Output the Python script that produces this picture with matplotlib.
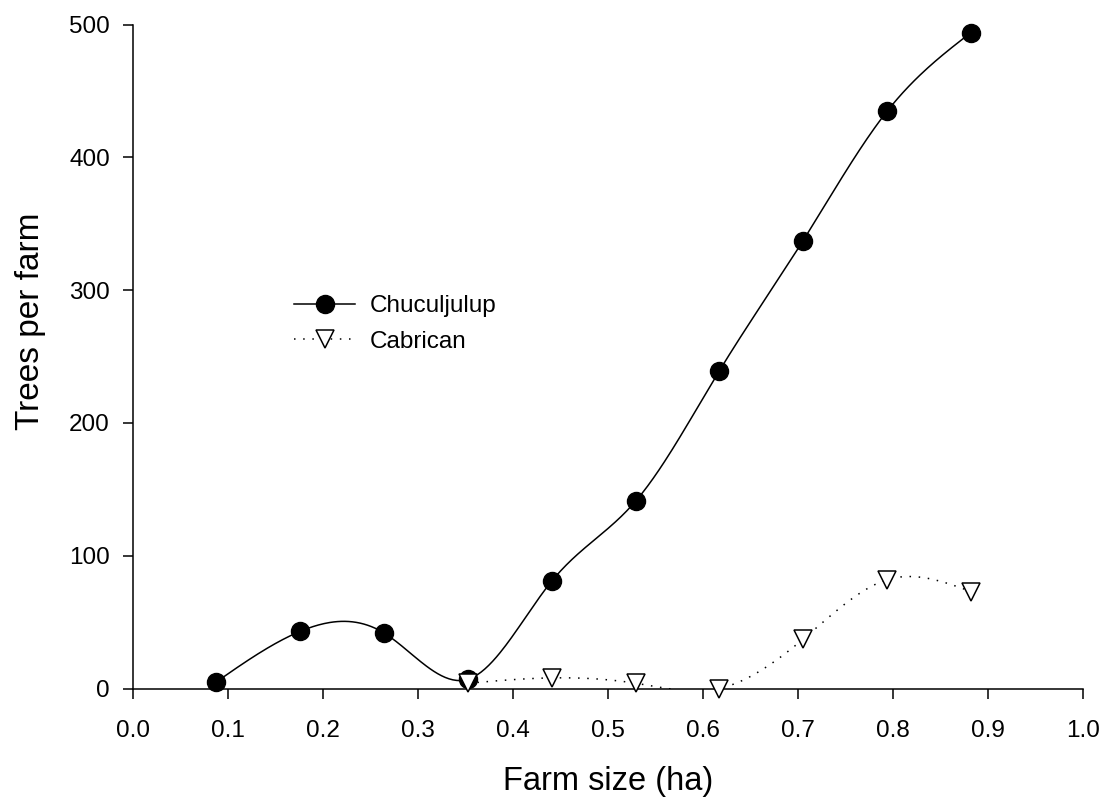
import numpy as np
import matplotlib
matplotlib.use('Agg')
import matplotlib.pyplot as plt
from matplotlib.lines import Line2D

plt.rcParams['font.family'] = ['Liberation Sans', 'DejaVu Sans']

# farm size classes (ha) and mean trees per farm
farm_size = [0.088, 0.176, 0.264, 0.353, 0.441, 0.529, 0.617, 0.705, 0.794, 0.882]
chuculjulup = [5, 43, 42, 7, 81, 141, 239, 337, 435, 494]

cabrican_size = [0.353, 0.441, 0.529, 0.617, 0.705, 0.794, 0.882]
cabrican = [4, 8, 4, 0, 37, 82, 73]

x_ticks = [0.0, 0.1, 0.2, 0.3, 0.4, 0.5, 0.6, 0.7, 0.8, 0.9, 1.0]
y_ticks = [0, 100, 200, 300, 400, 500]


def natural_spline(x, y, n=400):
    """Smooth curve through the points with a natural cubic spline."""
    x = np.asarray(x, float)
    y = np.asarray(y, float)
    k = len(x)
    h = np.diff(x)
    A = np.zeros((k, k))
    b = np.zeros(k)
    A[0, 0] = A[-1, -1] = 1
    for i in range(1, k - 1):
        A[i, i - 1] = h[i - 1]
        A[i, i] = 2 * (h[i - 1] + h[i])
        A[i, i + 1] = h[i]
        b[i] = 6 * ((y[i + 1] - y[i]) / h[i] - (y[i] - y[i - 1]) / h[i - 1])
    m = np.linalg.solve(A, b)
    xs = np.linspace(x[0], x[-1], n)
    idx = np.clip(np.searchsorted(x, xs) - 1, 0, k - 2)
    x0, x1 = x[idx], x[idx + 1]
    y0, y1 = y[idx], y[idx + 1]
    m0, m1 = m[idx], m[idx + 1]
    hh = x1 - x0
    t1 = x1 - xs
    t0 = xs - x0
    ys = (m0 * t1 ** 3 + m1 * t0 ** 3) / (6 * hh) \
        + (y0 / hh - m0 * hh / 6) * t1 + (y1 / hh - m1 * hh / 6) * t0
    return xs, ys


fig = plt.figure(figsize=(11.07, 8.02), dpi=100)
ax = fig.add_axes([0.1199, 0.1415, 0.8586, 0.8279])

dotted = (0, (1, 5))

xs, ys = natural_spline(farm_size, chuculjulup)
ax.plot(xs, ys, color='black', lw=1.1)
ax.plot(farm_size, chuculjulup, 'o', ms=13, color='black', clip_on=False, zorder=3)

xs, ys = natural_spline(cabrican_size, cabrican)
ax.plot(xs, ys, color='black', lw=1.1, linestyle=dotted)
ax.plot(cabrican_size, cabrican, 'v', ms=12.5, mfc='white', mec='black', mew=1.1,
        clip_on=False, zorder=3)

ax.set_xlim(0, 1.0)
ax.set_ylim(0, 500)
ax.set_xticks(x_ticks)
ax.set_xticklabels([f'{t:.1f}' for t in x_ticks])
ax.set_yticks(y_ticks)

for side in ['top', 'right']:
    ax.spines[side].set_visible(False)
for side in ['left', 'bottom']:
    ax.spines[side].set_linewidth(1.1)

ax.tick_params(axis='both', direction='out', length=7.5, width=1.1,
               labelsize=17.5, color='black')
ax.tick_params(axis='x', pad=15)
ax.tick_params(axis='y', pad=9)

ax.set_xlabel('Farm size (ha)', fontsize=23.5, va='center')
ax.set_ylabel('Trees per farm', fontsize=24, va='center')
ax.xaxis.set_label_coords(0.5, -0.14)
ax.yaxis.set_label_coords(-0.108, 0.553)

handles = [
    Line2D([], [], color='black', lw=1.1, marker='o', ms=13),
    Line2D([], [], color='black', lw=1.1, linestyle=dotted, marker='v', ms=12.5,
           mfc='white', mec='black', mew=1.1),
]
ax.legend(handles, ['Chuculjulup', 'Cabrican'], frameon=False, fontsize=17.5,
          loc='upper left', bbox_to_anchor=(0.17, 0.592), handlelength=2.5,
          handletextpad=0.6, labelspacing=0.55, borderpad=0, borderaxespad=0)

fig.savefig('out.png', dpi=100)
